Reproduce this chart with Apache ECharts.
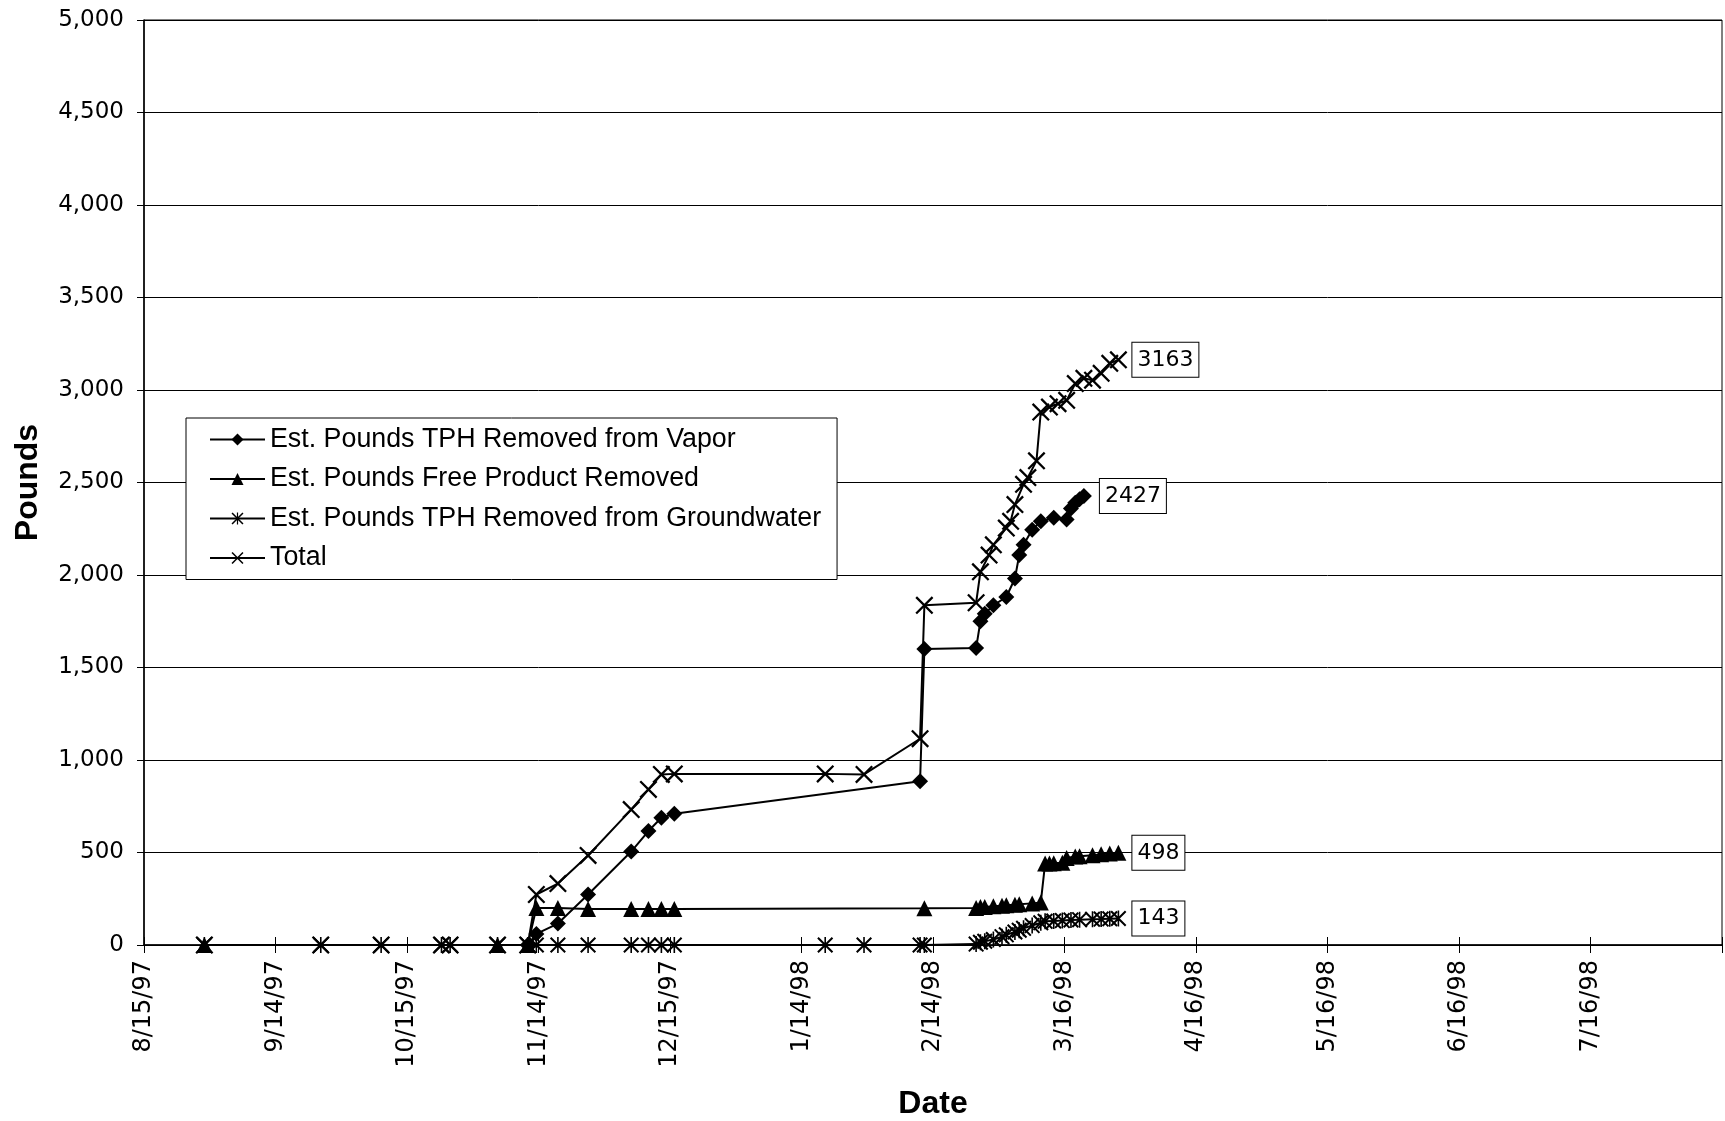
<!DOCTYPE html>
<html><head><meta charset="utf-8">
<script src="https://cdn.jsdelivr.net/npm/echarts@6/dist/echarts.min.js"></script>
<style>html,body{margin:0;padding:0;background:#fff}#c{width:1725px;height:1121px}</style>
</head><body><div id="c"></div>
<script>
// X-axis tick labels (one every 30.5 days from 8/15/97)
const xTickLabels = ['8/15/97','9/14/97','10/15/97','11/14/97','12/15/97','1/14/98','2/14/98','3/16/98','4/16/98','5/16/98','6/16/98','7/16/98',''];

const seriesNames = ['Est. Pounds TPH Removed from Vapor','Est. Pounds Free Product Removed','Est. Pounds TPH Removed from Groundwater','Total'];

const vaporDates = ['1997-11-12','1997-11-14','1997-11-19','1997-11-26','1997-12-06','1997-12-10','1997-12-13','1997-12-16',
  '1998-02-11','1998-02-12','1998-02-24','1998-02-25','1998-02-26','1998-02-28','1998-03-03','1998-03-05','1998-03-06','1998-03-07',
  '1998-03-09','1998-03-11','1998-03-14','1998-03-17','1998-03-18','1998-03-19','1998-03-20','1998-03-21'];
const vaporValues = [0,60,116,273,505,616,688,709,
  885,1600,1605,1750,1790,1836,1881,1981,2108,2163,
  2245,2290,2310,2300,2360,2390,2410,2427];

const freeDates = ['1997-08-29','1997-11-05','1997-11-12','1997-11-14','1997-11-19','1997-11-26','1997-12-06','1997-12-10','1997-12-13','1997-12-16',
  '1998-02-12','1998-02-24','1998-02-25','1998-02-26','1998-02-28','1998-03-02','1998-03-03','1998-03-05','1998-03-06','1998-03-09','1998-03-11',
  '1998-03-12','1998-03-13','1998-03-14','1998-03-16','1998-03-17','1998-03-19','1998-03-20','1998-03-23','1998-03-25','1998-03-27','1998-03-29'];
const freeValues = [0,0,0,200,200,195,195,195,195,195,
  198,200,205,205,210,212,215,218,220,225,230,
  440,440,442,445,470,478,480,485,490,495,498];

const gwDates = ['1997-08-29','1997-09-25','1997-10-09','1997-10-23','1997-10-25','1997-11-05','1997-11-12','1997-11-14','1997-11-19','1997-11-26',
  '1997-12-06','1997-12-10','1997-12-13','1997-12-16','1998-01-20','1998-01-29','1998-02-11','1998-02-12',
  '1998-02-24','1998-02-25','1998-02-26','1998-02-28','1998-03-02','1998-03-03','1998-03-05','1998-03-06','1998-03-07','1998-03-09','1998-03-11',
  '1998-03-12','1998-03-14','1998-03-16','1998-03-18','1998-03-20','1998-03-23','1998-03-25','1998-03-27','1998-03-29'];
const gwValues = [0,0,0,0,0,0,0,0,0,0,
  0,0,0,0,0,0,0,0,
  5,15,20,30,45,55,70,80,90,105,120,
  128,130,132,135,137,139,140,142,143];

const totalDates = ['1997-08-29','1997-09-25','1997-10-09','1997-10-23','1997-10-25','1997-11-05','1997-11-12','1997-11-14','1997-11-19','1997-11-26',
  '1997-12-06','1997-12-10','1997-12-13','1997-12-16','1998-01-20','1998-01-29','1998-02-11','1998-02-12',
  '1998-02-24','1998-02-25','1998-02-27','1998-02-28','1998-03-03','1998-03-04','1998-03-05','1998-03-07','1998-03-08','1998-03-10',
  '1998-03-11','1998-03-13','1998-03-15','1998-03-17','1998-03-19','1998-03-21','1998-03-23','1998-03-25','1998-03-27','1998-03-29'];
const totalValues = [0,0,0,0,0,0,0,273,332,484,
  732,841,922,925,925,922,1115,1836,
  1850,2017,2108,2163,2254,2290,2381,2490,2527,2617,
  2881,2908,2926,2944,3035,3063,3053,3090,3144,3163];

const ORIGIN = Date.UTC(1997,7,15);
function dayOf(s){ const p = s.split('-').map(Number); return (Date.UTC(p[0],p[1]-1,p[2]) - ORIGIN)/86400000; }

const FONT = 'Liberation Sans';
const WIDE = 'DejaVu Sans';
const starPath = 'path://M9 0L11 0L11 20L9 20Z M0 1.8L1.8 0L20 18.2L18.2 20Z M18.2 0L20 1.8L1.8 20L0 18.2Z';
const xPath = 'path://M0 1.8L1.8 0L20 18.2L18.2 20Z M18.2 0L20 1.8L1.8 20L0 18.2Z';

function build(name, dates, values, symbol, size, labelDist){
  const data = dates.map((d,i)=>({value:[dayOf(d), values[i]]}));
  const last = data[data.length-1];
  last.label = {show:true, position:'right', distance:labelDist, formatter:String(values[values.length-1]),
    fontFamily:WIDE, fontSize:22, color:'#000', backgroundColor:'#fff', borderColor:'#000', borderWidth:1, padding:[7,5,5,5]};
  return {name, type:'line', data, symbol, symbolSize:size, showSymbol:true,
    lineStyle:{color:'#000', width:2}, itemStyle:{color:'#000', borderWidth:0}, label:{show:false}, emphasis:{disabled:true}};
}

const chart = echarts.init(document.getElementById('c'), null, {renderer:'canvas'});
chart.setOption({
  animation:false,
  backgroundColor:'#fff',
  textStyle:{fontFamily:FONT, color:'#000'},
  grid:{left:144, right:3, top:20, bottom:176, show:true, borderColor:'#000', borderWidth:1, backgroundColor:'transparent',
    containLabel:false, outerBoundsMode:'none'},
  legend:{orient:'vertical', left:186, top:418, data:seriesNames,
    padding:[8,16,8,23], itemGap:12.5, itemWidth:55, itemHeight:15,
    backgroundColor:'#fff', borderColor:'#000', borderWidth:1, borderRadius:0,
    textStyle:{fontFamily:FONT, fontSize:26.8, color:'#000', lineHeight:26}},
  xAxis:[{type:'value', min:0, max:366, interval:30.5,
    name:'Date', nameLocation:'middle', nameGap:143,
    nameTextStyle:{fontFamily:FONT, fontSize:32, fontWeight:'bold', color:'#000'},
    axisLine:{show:true, lineStyle:{color:'#000', width:1.5}},
    axisTick:{show:true, inside:false, length:8, lineStyle:{color:'#000'}},
    axisLabel:{rotate:90, margin:15, fontFamily:WIDE, fontSize:24, color:'#000',
      formatter:(v)=>xTickLabels[Math.round(v/30.5)] || ''},
    splitLine:{show:false}},
   {type:'value', min:0, max:366, interval:30.5, position:'bottom',
    axisLine:{show:false}, axisLabel:{show:false}, splitLine:{show:false},
    axisTick:{show:true, inside:true, length:8, lineStyle:{color:'#000'}}}],
  yAxis:{type:'value', min:0, max:5000, interval:500,
    name:'Pounds', nameLocation:'middle', nameGap:100,
    nameTextStyle:{fontFamily:FONT, fontSize:32, fontWeight:'bold', color:'#000'},
    axisLine:{show:true, lineStyle:{color:'#000', width:1.5}},
    axisTick:{show:true, inside:false, length:7, lineStyle:{color:'#000'}},
    axisLabel:{margin:20, fontFamily:WIDE, fontSize:23, color:'#000',
      formatter:(v)=>v.toLocaleString('en-US')},
    splitLine:{show:true, lineStyle:{color:'#000', width:1}}},
  series:[
    build(seriesNames[0], vaporDates, vaporValues, 'diamond', 16, 8),
    build(seriesNames[1], freeDates, freeValues, 'triangle', 16, 6),
    build(seriesNames[2], gwDates, gwValues, starPath, 16, 6),
    build(seriesNames[3], totalDates, totalValues, xPath, 18, 5)
  ]
});
</script></body></html>
